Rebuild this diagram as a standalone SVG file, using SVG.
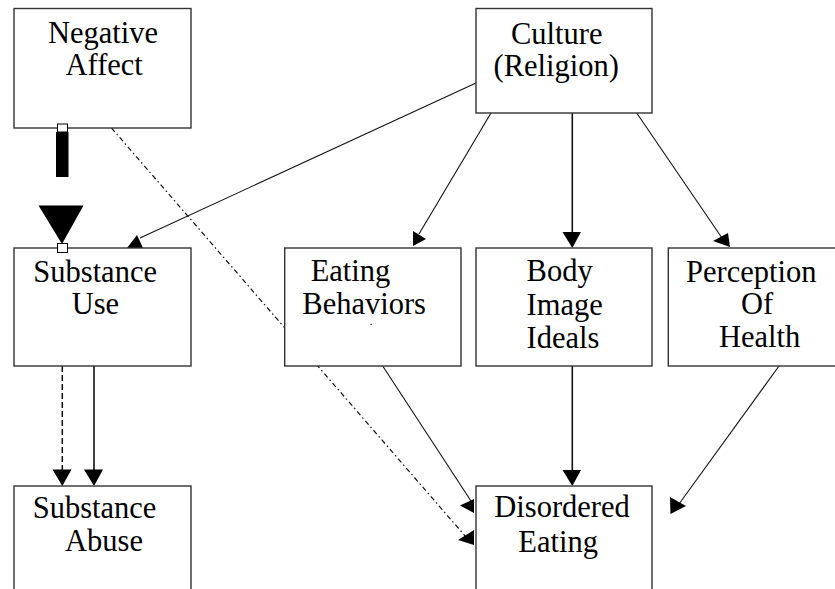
<svg xmlns="http://www.w3.org/2000/svg" width="835" height="589" viewBox="0 0 835 589">
<style>
.box{fill:#fff;stroke:#333;stroke-width:1.4}
.lbl{font-family:'Liberation Serif','Times New Roman','DejaVu Serif',serif;font-size:30.5px;fill:#000}
.ln{fill:none;stroke:#111;stroke-width:1.1}
.lnb{fill:none;stroke:#111;stroke-width:1.6}
.dd{fill:none;stroke:#111;stroke-width:1.2;stroke-dasharray:5,3,1.5,3}
.dv{fill:none;stroke:#111;stroke-width:1.5;stroke-dasharray:6,3}
.ah{fill:#000;stroke:none}
.hd{fill:#fff;stroke:#000;stroke-width:1}
</style>
<rect width="835" height="589" fill="#fff"/>
<g id="connectors">
  <rect x="56" y="132" width="12.5" height="45" fill="#000"/>
  <polygon class="ah" points="38.5,205.5 83.5,205.5 62,244"/>
  <path class="dd" d="M111.5,128 L466,537"/>
  <polygon class="ah" points="458,540 474,530 474,545"/>
  <path class="ln" d="M476,83 L140,238"/>
  <polygon class="ah" points="127,248 137,235 143,248"/>
  <path class="ln" d="M491,113 L419,234"/>
  <polygon class="ah" points="413,231 413,246 426,239"/>
  <path class="lnb" d="M572.3,113 L572.3,235"/>
  <polygon class="ah" points="562.5,232 581,232 572.3,248"/>
  <path class="ln" d="M636.7,113 L722,238"/>
  <polygon class="ah" points="713,241 728,233 730,247"/>
  <path class="dv" d="M62.3,366 L62.3,472"/>
  <polygon class="ah" points="52.5,469.5 71.5,469.5 62.3,486"/>
  <path class="lnb" d="M94,366 L94,472"/>
  <polygon class="ah" points="84,469.5 103,469.5 94,486"/>
  <path class="ln" d="M382.7,366 L471,501"/>
  <polygon class="ah" points="460,505.5 474,499 474,513"/>
  <path class="lnb" d="M572.3,366 L572.3,473"/>
  <polygon class="ah" points="562.5,470 581,470 572.3,486"/>
  <path class="ln" d="M779,366 L679,504"/>
  <polygon class="ah" points="670,497 686,506 670.5,514"/>
</g>
<g id="negative-affect">
  <rect class="box" x="14" y="8.5" width="177" height="119.5"/>
  <text class="lbl" x="48" y="43">Negative</text>
  <text class="lbl" x="65.5" y="75">Affect</text>
</g>
<g id="culture">
  <rect class="box" x="476" y="8.5" width="176" height="104.5"/>
  <text class="lbl" x="511" y="43.5">Culture</text>
  <text class="lbl" x="493.5" y="76">(Religion)</text>
</g>
<g id="substance-use">
  <rect class="box" x="14" y="248" width="177" height="118"/>
  <text class="lbl" x="33.3" y="282">Substance</text>
  <text class="lbl" x="71.7" y="313.5">Use</text>
</g>
<g id="eating-behaviors">
  <rect class="box" x="284.7" y="248" width="176.3" height="118"/>
  <text class="lbl" x="310.7" y="281">Eating</text>
  <text class="lbl" x="302.3" y="313.5">Behaviors</text>
  <rect x="370.5" y="323.8" width="1.2" height="1.2" fill="#000"/>
</g>
<g id="body-image-ideals">
  <rect class="box" x="476" y="248" width="176" height="118"/>
  <text class="lbl" x="526.6" y="281">Body</text>
  <text class="lbl" x="526.6" y="314.5">Image</text>
  <text class="lbl" x="526.6" y="347.5">Ideals</text>
</g>
<g id="perception-of-health">
  <rect class="box" x="668.3" y="248" width="177" height="118"/>
  <text class="lbl" x="686" y="281.5">Perception</text>
  <text class="lbl" x="741" y="314">Of</text>
  <text class="lbl" x="719" y="347">Health</text>
</g>
<g id="substance-abuse">
  <rect class="box" x="14" y="486" width="177" height="118"/>
  <text class="lbl" x="32.7" y="518.3">Substance</text>
  <text class="lbl" x="65" y="551">Abuse</text>
</g>
<g id="disordered-eating">
  <rect class="box" x="476" y="486" width="176" height="118"/>
  <text class="lbl" x="494.3" y="516.7">Disordered</text>
  <text class="lbl" x="518.3" y="551.7">Eating</text>
</g>
<g id="handles">
  <rect class="hd" x="57.5" y="124" width="10" height="8"/>
  <rect class="hd" x="57.5" y="243.5" width="10" height="9"/>
</g>
</svg>
